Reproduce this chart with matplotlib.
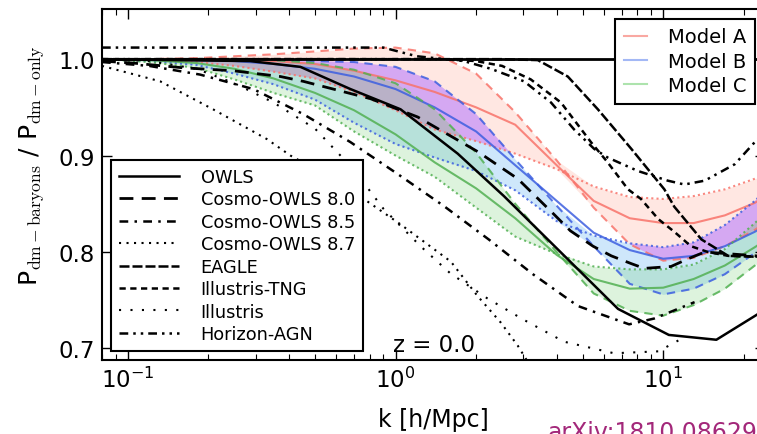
import numpy as np
import matplotlib.pyplot as plt
from matplotlib.lines import Line2D
from matplotlib.ticker import FormatStrFormatter

# --- model bands (common k grid) ---
k_mod = [0.08, 0.12, 0.18, 0.25, 0.35, 0.5, 0.7, 1.0, 1.4, 2.0, 2.8, 4.0, 5.5, 7.5, 10, 13, 17, 22, 25]

a_solid = [1.0, 1.0, 1.0, 0.999, 0.998, 0.995, 0.988, 0.978, 0.966, 0.950, 0.932, 0.890, 0.853, 0.835, 0.830, 0.830, 0.838, 0.851, 0.860]
a_dash = [1.0, 1.0, 1.001, 1.003, 1.005, 1.008, 1.011, 1.012, 1.006, 0.985, 0.945, 0.895, 0.846, 0.808, 0.791, 0.794, 0.806, 0.823, 0.833]
a_dot = [1.0, 0.999, 0.997, 0.993, 0.987, 0.980, 0.966, 0.947, 0.927, 0.915, 0.902, 0.886, 0.868, 0.857, 0.855, 0.858, 0.865, 0.876, 0.882]

b_solid = [1.0, 1.0, 0.999, 0.998, 0.995, 0.990, 0.982, 0.969, 0.950, 0.925, 0.890, 0.853, 0.820, 0.802, 0.793, 0.796, 0.806, 0.821, 0.830]
b_dash = [1.0, 1.0, 1.0, 1.0, 0.999, 0.998, 0.997, 0.992, 0.977, 0.943, 0.896, 0.848, 0.806, 0.767, 0.756, 0.762, 0.777, 0.799, 0.810]
b_dot = [1.0, 0.998, 0.994, 0.985, 0.974, 0.958, 0.934, 0.912, 0.898, 0.884, 0.864, 0.832, 0.817, 0.809, 0.805, 0.810, 0.828, 0.853, 0.868]

c_solid = [1.0, 0.999, 0.996, 0.990, 0.980, 0.965, 0.947, 0.922, 0.893, 0.866, 0.835, 0.797, 0.772, 0.762, 0.763, 0.772, 0.786, 0.805, 0.815]
c_dash = [1.0, 1.0, 1.0, 1.0, 0.999, 0.996, 0.989, 0.975, 0.948, 0.903, 0.850, 0.800, 0.757, 0.739, 0.734, 0.745, 0.762, 0.786, 0.800]
c_dot = [1.0, 0.997, 0.991, 0.979, 0.965, 0.952, 0.925, 0.900, 0.878, 0.846, 0.816, 0.798, 0.785, 0.782, 0.782, 0.787, 0.803, 0.830, 0.845]

# --- simulations ---
k_owls = [0.08, 0.286, 0.441, 0.678, 1.044, 1.707, 2.54, 6.78, 10.5, 15.8, 22.7, 25]
owls = [1.0, 0.998, 0.992, 0.969, 0.948, 0.902, 0.858, 0.741, 0.714, 0.709, 0.736, 0.745]

k_c80 = [0.08, 0.104, 0.161, 0.247, 0.371, 0.452, 0.806, 1.21, 2.03, 2.86, 3.91, 4.5, 5.47, 6.4, 7.59, 8.5, 10.7, 12.4, 14.3, 25]
c80 = [0.998, 0.996, 0.991, 0.988, 0.982, 0.977, 0.959, 0.940, 0.904, 0.876, 0.839, 0.822, 0.806, 0.796, 0.788, 0.783, 0.785, 0.793, 0.800, 0.795]

k_c85 = [0.08, 0.12, 0.186, 0.294, 0.452, 0.678, 1.017, 1.51, 2.23, 3.26, 4.8, 7.46, 9.25, 13.1]
c85 = [0.997, 0.993, 0.984, 0.969, 0.943, 0.914, 0.881, 0.848, 0.813, 0.777, 0.744, 0.725, 0.731, 0.748]

k_c87 = [0.08, 0.132, 0.208, 0.331, 0.405, 0.5, 0.7, 1.04, 1.61, 2.03, 2.47, 2.86, 3.3]
c87 = [0.993, 0.977, 0.948, 0.917, 0.900, 0.886, 0.862, 0.829, 0.790, 0.754, 0.727, 0.703, 0.675]

k_eagle = [0.08, 2.5, 3.4, 4.4, 5.7, 7.6, 10.1, 11.0, 13.9, 17.5, 22.7, 25]
eagle = [1.0, 1.0, 0.999, 0.982, 0.948, 0.907, 0.865, 0.847, 0.813, 0.796, 0.795, 0.795]

k_tng = [0.08, 1.5, 2.0, 2.5, 3.2, 4.15, 5.37, 6.2, 7.39, 8.26, 9.6, 11.0, 12.7, 14.7, 17.5, 25]
tng = [1.0, 1.0, 0.998, 0.993, 0.979, 0.955, 0.914, 0.893, 0.865, 0.855, 0.834, 0.821, 0.806, 0.800, 0.796, 0.795]

k_ill = [0.08, 0.12, 0.18, 0.25, 0.35, 0.5, 0.7, 0.9, 1.24, 1.6, 2.2, 3.0, 4.26, 6.55, 9.6, 11.7]
ill = [1.0, 0.998, 0.990, 0.975, 0.955, 0.928, 0.885, 0.845, 0.806, 0.778, 0.752, 0.730, 0.707, 0.695, 0.697, 0.710]

k_hz = [0.08, 0.9, 1.2, 1.8, 2.27, 3.02, 3.81, 4.65, 5.52, 6.2, 8.05, 10.4, 12.0, 14.3, 18.5, 22, 25]
hz = [1.012, 1.012, 1.003, 0.998, 0.990, 0.977, 0.955, 0.927, 0.907, 0.898, 0.884, 0.874, 0.870, 0.874, 0.891, 0.914, 0.930]

sim_labels = ['OWLS', 'Cosmo-OWLS 8.0', 'Cosmo-OWLS 8.5', 'Cosmo-OWLS 8.7',
              'EAGLE', 'Illustris-TNG', 'Illustris', 'Horizon-AGN']
model_labels = ['Model A', 'Model B', 'Model C']

fig = plt.figure(figsize=(7.57, 4.35), dpi=100)
ax = fig.add_axes([0.1347, 0.1701, 0.8758, 0.8069])
ax.set_xscale('log')

km = np.array(k_mod)
models = [
    (a_solid, a_dash, a_dot, '#f8736a', '#ff8a70', 0.20, '#f9a8a2'),
    (b_solid, b_dash, b_dot, '#3d5fe0', '#3fa0f0', 0.25, '#a3b8f5'),
    (c_solid, c_dash, c_dot, '#52b052', '#66cc66', 0.22, '#ade3ad'),
]

lows, highs = [], []
for mid, dsh, dot, lc, fc, fa, _ in models:
    lo = np.minimum(dsh, dot)
    hi = np.maximum(dsh, dot)
    lows.append(lo)
    highs.append(hi)
    ax.fill_between(km, lo, hi, color=fc, alpha=fa, lw=0, zorder=1)

# overlap A & B (purple) and A & B & C (grey)
lo_ab = np.maximum(lows[0], lows[1])
hi_ab = np.minimum(highs[0], highs[1])
ax.fill_between(km, lo_ab, hi_ab, where=hi_ab > lo_ab, interpolate=True,
                color='#d6a3f4', alpha=0.9, lw=0, zorder=1.2)
lo_abc = np.maximum(lo_ab, lows[2])
hi_abc = np.minimum(hi_ab, highs[2])
ax.fill_between(km, lo_abc, hi_abc, where=hi_abc > lo_abc, interpolate=True,
                color='#b7b3c3', alpha=0.9, lw=0, zorder=1.3)

for mid, dsh, dot, lc, fc, fa, _ in models:
    ax.plot(km, mid, color=lc, lw=1.5, alpha=0.85, zorder=2)
    ax.plot(km, dsh, color=lc, lw=1.5, alpha=0.85, dashes=(4, 3), zorder=2)
    ax.plot(km, dot, color=lc, lw=1.5, alpha=0.85, dashes=(1, 1.5), zorder=2)

ax.axhline(1.0, color='k', lw=2, zorder=3)

sims = [
    (k_owls, owls, dict(lw=1.8)),
    (k_c80, c80, dict(lw=2, dashes=(5, 3))),
    (k_c85, c85, dict(lw=1.8, dashes=(3.5, 2.5, 1, 2.5))),
    (k_c87, c87, dict(lw=1.5, dashes=(1, 2.6))),
    (k_eagle, eagle, dict(lw=1.8, dashes=(4, 1.2))),
    (k_tng, tng, dict(lw=1.8, dashes=(2.5, 1.8))),
    (k_ill, ill, dict(lw=1.5, dashes=(1, 4.5))),
    (k_hz, hz, dict(lw=1.8, dashes=(3.5, 2, 1, 2, 1, 2))),
]
sim_handles = []
for (kk, vv, st), lab in zip(sims, sim_labels):
    h, = ax.plot(kk, vv, color='k', label=lab, zorder=3, **st)
    sim_handles.append(h)

ax.set_xlim(0.08, 24)
ax.set_ylim(0.688, 1.052)
ax.set_yticks([0.7, 0.8, 0.9, 1.0])
ax.yaxis.set_major_formatter(FormatStrFormatter('%.1f'))
ax.tick_params(which='both', direction='in', top=True, right=True, labelsize=16.5)
ax.tick_params(which='major', length=7, width=1, pad=5)
ax.tick_params(which='minor', length=4, width=0.8)
for sp in ax.spines.values():
    sp.set_linewidth(1.5)

ax.set_xlabel('k [h/Mpc]', fontsize=17, labelpad=11)
ax.set_ylabel(r'P$_{\rm dm-baryons}$ / P$_{\rm dm-only}$', fontsize=18,
              math_fontfamily='cm')
ax.yaxis.set_label_coords(-0.085, 0.555)

leg1 = ax.legend(handles=sim_handles, loc='lower left', fontsize=12.8,
                 handlelength=3.4, handletextpad=1.2, labelspacing=0.25,
                 borderpad=0.45, fancybox=False, framealpha=1,
                 edgecolor='k', borderaxespad=0.5)
leg1.get_frame().set_linewidth(1.5)
leg1.set_zorder(5)
ax.add_artist(leg1)

proxies = [Line2D([], [], color=m[6], lw=1.5) for m in models]
leg2 = ax.legend(proxies, model_labels, loc='upper right', fontsize=14,
                 handlelength=1.15, handletextpad=1.1, labelspacing=0.27,
                 borderpad=0.45, fancybox=False, framealpha=1,
                 edgecolor='k', borderaxespad=0.5)
leg2.get_frame().set_linewidth(1.5)
leg2.set_zorder(5)

ax.text(0.4386, 0.026, 'z = 0.0', transform=ax.transAxes, fontsize=16.5,
        va='baseline', zorder=6)

fig.text(548 / 757, 1 - 421 / 435, 'arXiv:1810.08629', color='#a3287a',
         fontsize=17, va='top')

fig.savefig('out.png', dpi=100)
